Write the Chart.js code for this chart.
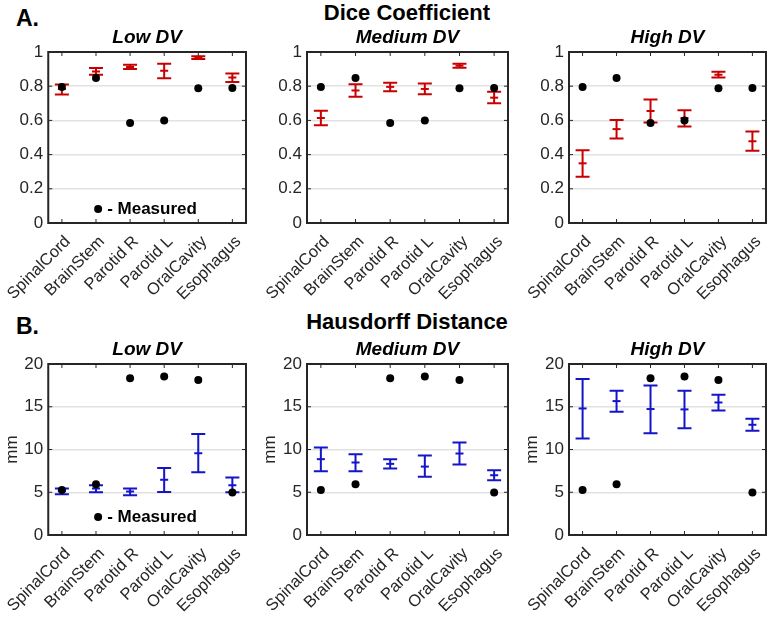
<!DOCTYPE html>
<html>
<head>
<meta charset="utf-8">
<script src="https://cdn.jsdelivr.net/npm/chart.js@4/dist/chart.umd.min.js"></script>
<style>
  body { margin: 0; background: #fff; }
  #wrap { position: relative; width: 772px; height: 617px; overflow: hidden; font-family: 'Liberation Sans', Arial, sans-serif; }
  canvas { position: absolute; }
  .lbl { position: absolute; font-weight: bold; color: #000; white-space: nowrap; line-height: 1; }
</style>
</head>
<body>
<div id="wrap">
  <div class="lbl" style="left:16px; top:7px; font-size:23px;">A.</div>
  <div class="lbl" style="left:287px; width:240px; text-align:center; top:2px; font-size:22px;">Dice Coefficient</div>
  <div class="lbl" style="left:16px; top:315px; font-size:23px;">B.</div>
  <div class="lbl" style="left:287px; width:240px; text-align:center; top:311px; font-size:22px;">Hausdorff Distance</div>

  <canvas id="dLow" width="257" height="305" style="left:0; top:0;"></canvas>
  <canvas id="dMed" width="258" height="305" style="left:257px; top:0;"></canvas>
  <canvas id="dHigh" width="257" height="305" style="left:515px; top:0;"></canvas>
  <canvas id="hLow" width="257" height="312" style="left:0; top:305px;"></canvas>
  <canvas id="hMed" width="258" height="312" style="left:257px; top:305px;"></canvas>
  <canvas id="hHigh" width="257" height="312" style="left:515px; top:305px;"></canvas>
</div>
<script>
const organs = ['SpinalCord', 'BrainStem', 'Parotid R', 'Parotid L', 'OralCavity', 'Esophagus'];
const levels = ['Low DV', 'Medium DV', 'High DV'];

// Dice coefficient: measured plan, and mean / min / max of predictions
const diceMeasured = [0.795, 0.848, 0.585, 0.6, 0.788, 0.79];
const diceLowMean = [0.784, 0.886, 0.912, 0.89, 0.967, 0.851];
const diceLowLo = [0.751, 0.867, 0.9, 0.847, 0.959, 0.825];
const diceLowHi = [0.81, 0.906, 0.925, 0.931, 0.975, 0.875];
const diceMedMean = [0.614, 0.775, 0.796, 0.784, 0.92, 0.733];
const diceMedLo = [0.571, 0.739, 0.771, 0.753, 0.908, 0.7];
const diceMedHi = [0.657, 0.812, 0.82, 0.816, 0.931, 0.767];
const diceHighMean = [0.349, 0.549, 0.655, 0.614, 0.867, 0.478];
const diceHighLo = [0.271, 0.494, 0.588, 0.565, 0.851, 0.422];
const diceHighHi = [0.425, 0.602, 0.722, 0.659, 0.884, 0.535];
const diceTicks = [0, 0.2, 0.4, 0.6, 0.8, 1];

// Hausdorff distance (mm)
const hdMeasured = [5.27, 5.94, 18.33, 18.55, 18.13, 4.96];
const hdLowMean = [5.16, 5.43, 5.08, 6.45, 9.57, 5.82];
const hdLowLo = [4.77, 5.0, 4.65, 5.04, 7.34, 5.0];
const hdLowHi = [5.43, 5.82, 5.43, 7.85, 11.8, 6.72];
const hdMedMean = [8.87, 8.48, 8.32, 8.0, 9.53, 6.99];
const hdMedLo = [7.46, 7.46, 7.77, 6.8, 8.24, 6.4];
const hdMedHi = [10.23, 9.45, 8.87, 9.3, 10.82, 7.58];
const hdHighMean = [14.8, 15.66, 14.73, 14.69, 15.5, 12.89];
const hdHighLo = [11.29, 14.41, 11.9, 12.5, 14.57, 12.19];
const hdHighHi = [18.24, 16.88, 17.5, 16.88, 16.4, 13.6];
const hdTicks = [0, 5, 10, 15, 20];

const FONT = "'Liberation Sans', Arial, sans-serif";
const RED = '#c80000';
const BLUE = '#1414c8';
const AXIS = '#262626';

const errorBarPlugin = {
  id: 'errorBars',
  beforeDatasetsDraw(chart, args, opts) {
    const { ctx, scales: { x, y } } = chart;
    ctx.save();
    ctx.strokeStyle = opts.color;
    ctx.lineWidth = 2;
    opts.lo.forEach((lo, i) => {
      const px = x.getPixelForValue(i + 1);
      const yl = y.getPixelForValue(lo);
      const yh = y.getPixelForValue(opts.hi[i]);
      ctx.beginPath();
      ctx.moveTo(px, yl); ctx.lineTo(px, yh);
      ctx.moveTo(px - 7, yl); ctx.lineTo(px + 7, yl);
      ctx.moveTo(px - 7, yh); ctx.lineTo(px + 7, yh);
      ctx.stroke();
    });
    ctx.restore();
  }
};

// box round the axes, inward tick marks, panel title and the "Measured" key
const framePlugin = {
  id: 'frame',
  afterDraw(chart, args, opts) {
    const { ctx, chartArea: a, scales: { x, y } } = chart;
    const cx = (a.left + a.right) / 2;
    ctx.save();
    ctx.strokeStyle = AXIS;
    ctx.lineWidth = 1;
    ctx.beginPath();
    x.ticks.forEach(t => {
      const px = x.getPixelForValue(t.value);
      ctx.moveTo(px, a.bottom); ctx.lineTo(px, a.bottom - 4);
      ctx.moveTo(px, a.top); ctx.lineTo(px, a.top + 4);
    });
    y.ticks.forEach(t => {
      const py = y.getPixelForValue(t.value);
      ctx.moveTo(a.left, py); ctx.lineTo(a.left + 4, py);
      ctx.moveTo(a.right, py); ctx.lineTo(a.right - 4, py);
    });
    ctx.stroke();
    ctx.lineWidth = 2;
    ctx.strokeRect(a.left, a.top, a.right - a.left, a.bottom - a.top);

    ctx.fillStyle = '#000';
    ctx.textBaseline = 'middle';
    ctx.textAlign = 'center';
    ctx.font = 'italic bold 19px ' + FONT;
    ctx.fillText(opts.title, cx, opts.titleY);

    if (opts.legend) {
      const cy = a.bottom - opts.legendOffset;
      ctx.beginPath();
      ctx.arc(cx - 49, cy, 4, 0, Math.PI * 2);
      ctx.fill();
      ctx.font = 'bold 17px ' + FONT;
      ctx.textAlign = 'left';
      ctx.fillText('- Measured', cx - 40, cy);
    }
    ctx.restore();
  }
};

function makePanel(id, p) {
  const pts = arr => arr.map((v, i) => ({ x: i + 1, y: v }));
  new Chart(document.getElementById(id), {
    type: 'scatter',
    data: {
      datasets: [
        { label: 'Measured', data: pts(p.measured), pointRadius: 4, pointBackgroundColor: '#000', pointBorderWidth: 0 },
        { label: 'Mean', data: pts(p.mean), pointStyle: 'line', pointRadius: 4, pointBorderColor: p.color, pointBorderWidth: 2 }
      ]
    },
    plugins: [errorBarPlugin, framePlugin],
    options: {
      responsive: false,
      animation: false,
      layout: { padding: { left: 0, right: p.padRight, top: p.top, bottom: 0 } },
      plugins: {
        legend: { display: false },
        tooltip: { enabled: false },
        errorBars: { lo: p.lo, hi: p.hi, color: p.color },
        frame: { title: p.title, titleY: p.titleY, legend: p.legend, legendOffset: p.legendOffset }
      },
      scales: {
        x: {
          type: 'linear', min: 0.6, max: 6.4,
          afterBuildTicks: s => { s.ticks = organs.map((o, i) => ({ value: i + 1 })); },
          afterFit: s => { s.height = 82; },
          grid: { display: false },
          border: { display: false },
          ticks: {
            autoSkip: false, minRotation: 45, maxRotation: 45, padding: 1, labelOffset: 6,
            color: AXIS, font: { family: FONT, size: 16.5 },
            callback: v => organs[v - 1]
          }
        },
        y: {
          min: 0, max: p.ticks[p.ticks.length - 1],
          afterBuildTicks: s => { s.ticks = p.ticks.map(v => ({ value: v })); },
          afterFit: s => { s.width = p.yWidth; },
          grid: { color: '#e2e2e2', lineWidth: 1.5, drawTicks: false },
          border: { display: false },
          ticks: { padding: 5, color: AXIS, font: { family: FONT, size: 17 }, callback: v => String(+v.toFixed(2)) },
          title: {
            display: !!p.yTitle, text: p.yTitle, color: AXIS,
            font: { family: FONT, size: 17 },
            padding: { top: p.yTitlePad || 0, bottom: 0 }
          }
        }
      }
    }
  });
}

makePanel('dLow', { title: levels[0], measured: diceMeasured, mean: diceLowMean, lo: diceLowLo, hi: diceLowHi,
  color: RED, ticks: diceTicks, yWidth: 46, padRight: 11, top: 52, titleY: 38, legend: true, legendOffset: 14 });
makePanel('dMed', { title: levels[1], measured: diceMeasured, mean: diceMedMean, lo: diceMedLo, hi: diceMedHi,
  color: RED, ticks: diceTicks, yWidth: 50, padRight: 7, top: 52, titleY: 38 });
makePanel('dHigh', { title: levels[2], measured: diceMeasured, mean: diceHighMean, lo: diceHighLo, hi: diceHighHi,
  color: RED, ticks: diceTicks, yWidth: 54, padRight: 5, top: 52, titleY: 38 });

makePanel('hLow', { title: levels[0], measured: hdMeasured, mean: hdLowMean, lo: hdLowLo, hi: hdLowHi,
  color: BLUE, ticks: hdTicks, yWidth: 46, padRight: 11, top: 59, titleY: 45, legend: true, legendOffset: 18,
  yTitle: 'mm', yTitlePad: 0 });
makePanel('hMed', { title: levels[1], measured: hdMeasured, mean: hdMedMean, lo: hdMedLo, hi: hdMedHi,
  color: BLUE, ticks: hdTicks, yWidth: 50, padRight: 7, top: 59, titleY: 45, yTitle: 'mm', yTitlePad: 3 });
makePanel('hHigh', { title: levels[2], measured: hdMeasured, mean: hdHighMean, lo: hdHighLo, hi: hdHighHi,
  color: BLUE, ticks: hdTicks, yWidth: 54, padRight: 5, top: 59, titleY: 45, yTitle: 'mm', yTitlePad: 7 });
</script>
</body>
</html>
